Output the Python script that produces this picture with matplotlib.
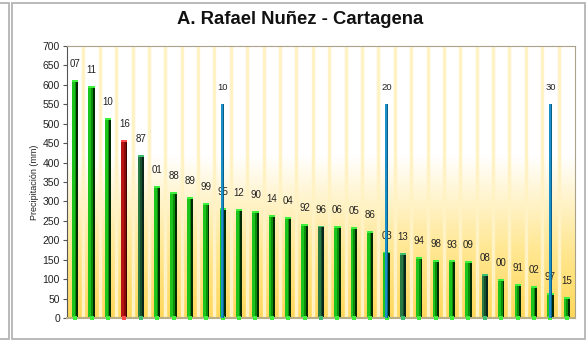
import numpy as np
import matplotlib.pyplot as plt
from matplotlib.patches import Rectangle
from matplotlib.colors import LinearSegmentedColormap

plt.rcParams['font.family'] = ['Liberation Sans', 'DejaVu Sans']

# precipitation ranking, wettest year first
years = ['07', '11', '10', '16', '87', '01', '88', '89', '99', '95', '12', '90', '14', '04', '92', '96',
         '06', '05', '86', '03', '13', '94', '98', '93', '09', '08', '00', '91', '02', '97', '15']
precip = [612, 598, 515, 457, 419, 339, 324, 311, 297, 282, 280, 275, 266, 261, 243, 238,
          236, 234, 225, 171, 168, 156, 150, 148, 147, 114, 101, 88, 82, 65, 55]
# bar style: g = normal green, d = dark green, r = red
kind = ['g', 'g', 'g', 'r', 'd', 'g', 'g', 'g', 'g', 'g', 'g', 'g', 'g', 'g', 'g', 'd',
        'g', 'g', 'g', 'g', 'd', 'g', 'g', 'g', 'g', 'd', 'g', 'g', 'g', 'g', 'g']

# rank markers every ten positions
mark_rank = [10, 20, 30]
mark_value = [550, 550, 550]

# (edge, body, highlight) shades for the cylinder look
shade = {'g': ('#032a03', '#0b8f0b', '#1cc41c'),
         'd': ('#08261a', '#17502c', '#2a7a44'),
         'r': ('#3a0404', '#8a0a0a', '#b81414')}
cap = {'g': '#3cf03c', 'd': '#3cc070', 'r': '#ff4a4a'}

W, H = 586, 341
fig = plt.figure(figsize=(W / 100, H / 100), dpi=100)
ax = fig.add_axes([67 / W, 1 - 318 / H, 508 / W, 272 / H])

x = np.arange(len(years))
ax.set_xlim(-0.5, len(years) - 0.5)
ax.set_ylim(0, 700)

# white-to-yellow background fading in near the bottom
grad = np.linspace(1, 0, 256).reshape(-1, 1)
cmap = LinearSegmentedColormap.from_list('bg', [(0, '#ffd75a'), (0.25, '#ffe792'), (0.6, '#ffffff'), (1, '#ffffff')])
ax.imshow(grad, cmap=cmap, extent=[-0.5, len(years) - 0.5, 0, 700], aspect='auto', zorder=0, vmin=0, vmax=1)

# cream separators between categories
for b in np.arange(0.5, len(years) - 0.5, 1):
    ax.axvline(b, color='#fff2c4', lw=2.5, zorder=1)

bw = 0.38
for xi, v, k in zip(x, precip, kind):
    edge, body, hi = shade[k]
    ax.bar(xi, v, width=bw, color=edge, zorder=2, linewidth=0)
    ax.bar(xi - bw * 0.15, v, width=bw * 0.7, color=body, zorder=2, linewidth=0)
    ax.bar(xi - bw * 0.28, v, width=bw * 0.44, color=hi, zorder=2, linewidth=0)
    ax.bar(xi, 5, bottom=v - 5, width=bw, color=cap[k], zorder=3, linewidth=0)
    ax.plot(xi, 0, marker='s', ms=3.5, color=cap[k], clip_on=False, zorder=4, mew=0)
    ax.annotate(years[xi], (xi, v), xytext=(0, 11.5), textcoords='offset points',
                ha='center', va='center', fontsize=7, color='#222222', zorder=5)

# rank markers drawn in front of the bars
for r, v in zip(mark_rank, mark_value):
    ax.bar(r - 1, v, width=0.22, color='#1a90c8', zorder=6, linewidth=0)
    ax.bar(r - 1 + 0.06, v, width=0.08, color='#0b5f8a', zorder=6, linewidth=0)
    ax.annotate(str(r), (r - 1, v), xytext=(0, 12), textcoords='offset points',
                ha='center', va='center', fontsize=6.8, color='#222222', zorder=5)

ax.set_yticks(np.arange(0, 701, 50))
ax.set_xticks([])
ax.tick_params(axis='y', labelsize=7.5, length=3, width=0.8, color='#555555', pad=2, labelcolor='#222222')
ax.set_ylabel('Precipitación (mm)', fontsize=6.5, labelpad=3, color='#222222')
for s in ['top', 'right']:
    ax.spines[s].set_color('#aaa38a')
ax.spines['bottom'].set_color('#b8ae88')
ax.spines['bottom'].set_linewidth(1.5)
ax.spines['left'].set_color('#555555')

fig.text(300 / W, 1 - 20 / H, 'A. Rafael Nuñez - Cartagena', ha='center', va='center',
         fontsize=13.3, fontweight='bold', color='#111111')

# chart frames
fig.patches.append(Rectangle((12 / W, 1 - 339 / H), 573 / W, 336 / H, transform=fig.transFigure,
                             fill=False, edgecolor='#b4b4b4', lw=1.3))
fig.patches.append(Rectangle((-10 / W, 1 - 339 / H), 19 / W, 336 / H, transform=fig.transFigure,
                             fill=False, edgecolor='#b4b4b4', lw=1.3))

fig.savefig('out.png', dpi=100)
